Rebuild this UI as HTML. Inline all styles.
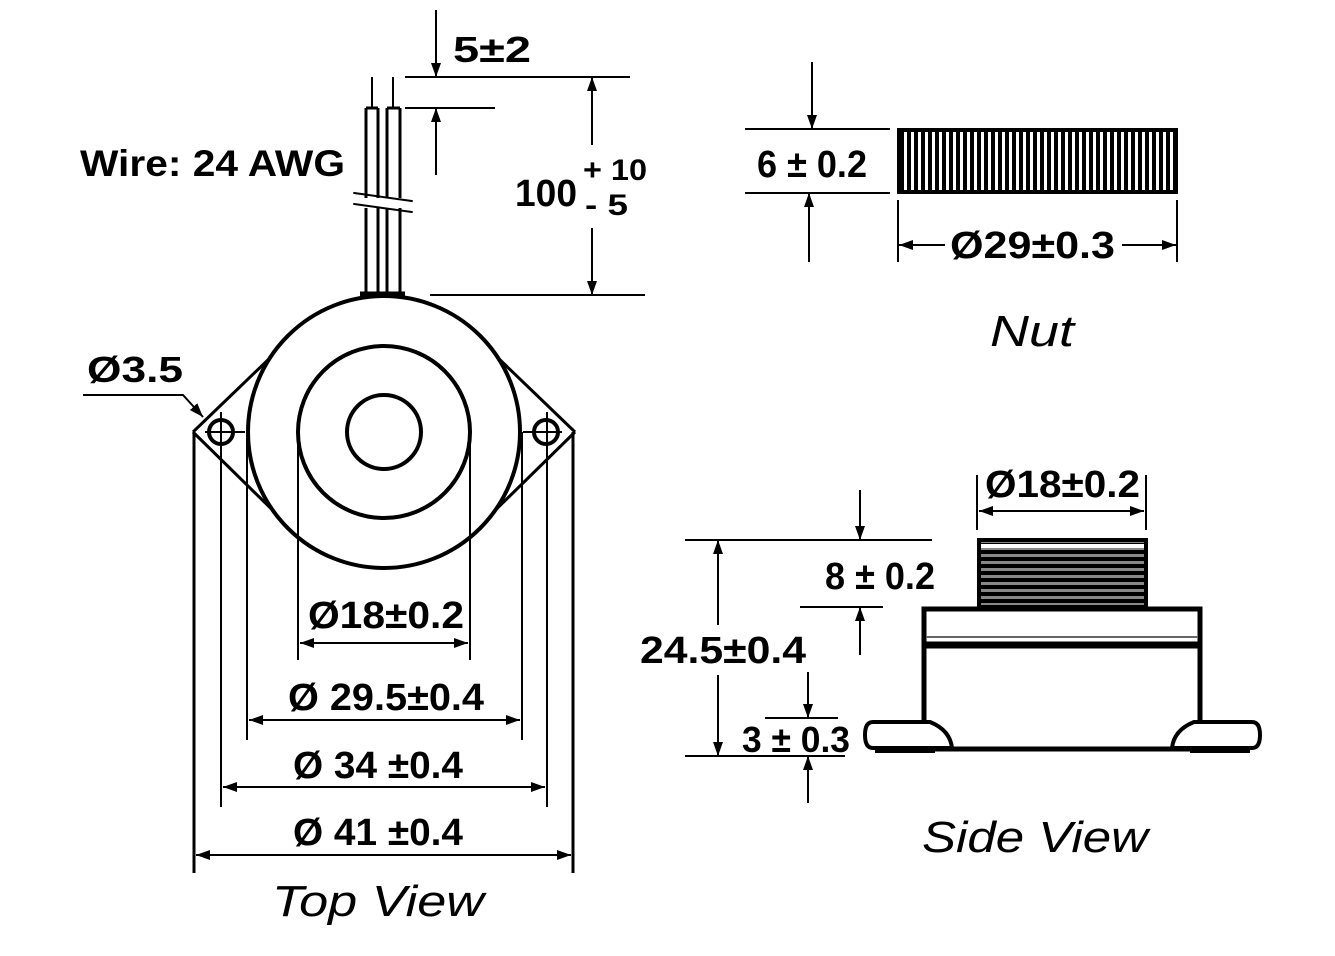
<!DOCTYPE html>
<html><head><meta charset="utf-8"><style>
html,body{margin:0;padding:0;background:#fff}
svg{display:block}
text{font-family:"Liberation Sans",sans-serif;font-weight:bold;fill:#000}
.i{font-style:italic;font-weight:normal}
</style></head><body>
<svg width="1335" height="956" viewBox="0 0 1335 956" xmlns="http://www.w3.org/2000/svg">
<defs>
<marker id="a" viewBox="0 0 14 10" refX="14" refY="5" markerWidth="14" markerHeight="10" markerUnits="userSpaceOnUse" orient="auto-start-reverse"><path d="M0,0 L14,5 L0,10 z" fill="#000"/></marker>
<pattern id="vh" width="7" height="10" patternUnits="userSpaceOnUse"><rect width="7" height="10" fill="#000"/><rect x="1" width="3" height="10" fill="#fff"/></pattern>
<pattern id="hh" width="10" height="7" patternUnits="userSpaceOnUse"><rect width="10" height="7" fill="#000"/><rect y="1" width="10" height="3" fill="#888"/></pattern>
</defs>
<g stroke="#000" stroke-width="2" fill="none">
<line x1="193" y1="432" x2="272" y2="356" stroke-width="3"/>
<line x1="193" y1="432" x2="300" y2="537" stroke-width="3"/>
<line x1="575" y1="432" x2="496" y2="356" stroke-width="3"/>
<line x1="575" y1="432" x2="468" y2="537" stroke-width="3"/>
<circle cx="384" cy="432" r="136" stroke-width="4" fill="#fff"/>
<circle cx="384" cy="432" r="86" stroke-width="4"/>
<circle cx="384" cy="432" r="37" stroke-width="4"/>
<circle cx="221" cy="432" r="12" stroke-width="4"/>
<circle cx="546" cy="432" r="12" stroke-width="4"/>
<line x1="205" y1="432" x2="245" y2="432"/><line x1="221" y1="412" x2="221" y2="807"/>
<line x1="523" y1="432" x2="562" y2="432"/><line x1="547" y1="412" x2="547" y2="807"/>
<line x1="194" y1="432" x2="194" y2="873" stroke-width="3"/>
<line x1="573" y1="432" x2="573" y2="873" stroke-width="3"/>
<line x1="247" y1="432" x2="247" y2="740"/>
<line x1="522" y1="432" x2="522" y2="740"/>
<line x1="298" y1="432" x2="298" y2="660"/>
<line x1="470" y1="432" x2="470" y2="660"/>
<line x1="300" y1="643" x2="468" y2="643" marker-start="url(#a)" marker-end="url(#a)"/>
<line x1="249" y1="720" x2="520" y2="720" marker-start="url(#a)" marker-end="url(#a)"/>
<line x1="223" y1="787" x2="545" y2="787" marker-start="url(#a)" marker-end="url(#a)"/>
<line x1="196" y1="855" x2="571" y2="855" marker-start="url(#a)" marker-end="url(#a)"/>
<polyline points="83,395 183,395 203,417" marker-end="url(#a)"/>
<line x1="366" y1="108" x2="366" y2="296" stroke-width="3"/>
<line x1="378" y1="108" x2="378" y2="296" stroke-width="3"/>
<line x1="387" y1="108" x2="387" y2="296" stroke-width="3"/>
<line x1="400" y1="108" x2="400" y2="296" stroke-width="3"/>
<line x1="366" y1="108" x2="378" y2="108" stroke-width="3"/>
<line x1="387" y1="108" x2="400" y2="108" stroke-width="3"/>
<line x1="372" y1="77" x2="372" y2="108"/>
<line x1="393" y1="77" x2="393" y2="108"/>
<line x1="353" y1="203" x2="413" y2="203" stroke="#fff" stroke-width="10"/>
<line x1="353" y1="197" x2="413" y2="197" stroke-width="2" transform="rotate(8 383 197)"/>
<line x1="353" y1="208" x2="413" y2="208" stroke-width="2" transform="rotate(8 383 208)"/>
<line x1="360" y1="294" x2="405" y2="294" stroke-width="5"/>
<line x1="405" y1="77" x2="630" y2="77"/>
<line x1="405" y1="108" x2="495" y2="108"/>
<line x1="430" y1="295" x2="645" y2="295"/>
<line x1="436" y1="10" x2="436" y2="77" marker-end="url(#a)"/>
<line x1="436" y1="175" x2="436" y2="108" marker-end="url(#a)"/>
<line x1="592" y1="145" x2="592" y2="77" marker-end="url(#a)"/>
<line x1="592" y1="228" x2="592" y2="295" marker-end="url(#a)"/>
<rect x="899" y="130" width="277" height="62" fill="url(#vh)" stroke-width="4"/>
<line x1="745" y1="129" x2="890" y2="129"/>
<line x1="745" y1="193" x2="890" y2="193"/>
<line x1="812" y1="62" x2="812" y2="129" marker-end="url(#a)"/>
<line x1="809" y1="262" x2="809" y2="193" marker-end="url(#a)"/>
<line x1="898" y1="200" x2="898" y2="262"/>
<line x1="1177" y1="200" x2="1177" y2="262"/>
<line x1="945" y1="245" x2="899" y2="245" marker-end="url(#a)"/>
<line x1="1122" y1="245" x2="1176" y2="245" marker-end="url(#a)"/>
<rect x="979" y="540" width="167" height="67" fill="url(#hh)" stroke-width="4"/>
<line x1="981" y1="546" x2="1144" y2="546" stroke="#fff" stroke-width="4"/>
<rect x="924" y="609" width="276" height="140" fill="#fff" stroke-width="5"/>
<line x1="926" y1="637" x2="1198" y2="637" stroke="#666" stroke-width="2"/>
<line x1="926" y1="645" x2="1198" y2="645" stroke-width="7"/>
<path d="M873,722 H930 Q950,730 952,748 H873 Q865,748 865,735 Q865,722 873,722 z" fill="#fff" stroke-width="4"/>
<path d="M1252,722 H1194 Q1174,730 1172,748 H1252 Q1260,748 1260,735 Q1260,722 1252,722 z" fill="#fff" stroke-width="4"/>
<line x1="875" y1="751" x2="935" y2="751" stroke-width="4"/>
<line x1="1190" y1="751" x2="1250" y2="751" stroke-width="4"/>
<line x1="925" y1="749" x2="1200" y2="749" stroke-width="4"/>
<line x1="977" y1="475" x2="977" y2="530"/>
<line x1="1146" y1="475" x2="1146" y2="530"/>
<line x1="979" y1="511" x2="1144" y2="511" marker-start="url(#a)" marker-end="url(#a)"/>
<line x1="685" y1="540" x2="932" y2="540"/>
<line x1="800" y1="607" x2="883" y2="607"/>
<line x1="860" y1="490" x2="860" y2="540" marker-end="url(#a)"/>
<line x1="860" y1="655" x2="860" y2="607" marker-end="url(#a)"/>
<line x1="718" y1="625" x2="718" y2="540" marker-end="url(#a)"/>
<line x1="718" y1="675" x2="718" y2="756" marker-end="url(#a)"/>
<line x1="685" y1="756" x2="845" y2="756"/>
<line x1="765" y1="718" x2="838" y2="718"/>
<line x1="808" y1="672" x2="808" y2="718" marker-end="url(#a)"/>
<line x1="808" y1="803" x2="808" y2="756" marker-end="url(#a)"/>
</g>
<text x="80" y="176" font-size="37" textLength="265" lengthAdjust="spacingAndGlyphs">Wire: 24 AWG</text>
<text x="453" y="62" font-size="36" textLength="78" lengthAdjust="spacingAndGlyphs">5±2</text>
<text x="515" y="206" font-size="38" textLength="62" lengthAdjust="spacingAndGlyphs">100</text>
<text x="583" y="180" font-size="30" textLength="64" lengthAdjust="spacingAndGlyphs">+ 10</text>
<text x="585" y="215" font-size="30" textLength="43" lengthAdjust="spacingAndGlyphs">- 5</text>
<text x="87" y="382" font-size="36" textLength="96" lengthAdjust="spacingAndGlyphs">Ø3.5</text>
<text x="308" y="628" font-size="38" textLength="156" lengthAdjust="spacingAndGlyphs">Ø18±0.2</text>
<text x="288" y="710" font-size="38" textLength="196" lengthAdjust="spacingAndGlyphs">Ø 29.5±0.4</text>
<text x="293" y="778" font-size="38" textLength="170" lengthAdjust="spacingAndGlyphs">Ø 34 ±0.4</text>
<text x="293" y="845" font-size="38" textLength="170" lengthAdjust="spacingAndGlyphs">Ø 41 ±0.4</text>
<text class="i" x="272" y="916" font-size="44" textLength="212" lengthAdjust="spacingAndGlyphs">Top View</text>
<text x="757" y="177" font-size="38" textLength="110" lengthAdjust="spacingAndGlyphs">6 ± 0.2</text>
<text x="950" y="258" font-size="38" textLength="165" lengthAdjust="spacingAndGlyphs">Ø29±0.3</text>
<text class="i" x="990" y="346" font-size="44" textLength="84" lengthAdjust="spacingAndGlyphs">Nut</text>
<text x="985" y="497" font-size="38" textLength="155" lengthAdjust="spacingAndGlyphs">Ø18±0.2</text>
<text x="825" y="589" font-size="38" textLength="110" lengthAdjust="spacingAndGlyphs">8 ± 0.2</text>
<text x="640" y="663" font-size="38" textLength="166" lengthAdjust="spacingAndGlyphs">24.5±0.4</text>
<text x="742" y="752" font-size="36" textLength="108" lengthAdjust="spacingAndGlyphs">3 ± 0.3</text>
<text class="i" x="922" y="852" font-size="44" textLength="226" lengthAdjust="spacingAndGlyphs">Side View</text>
</svg>
</body></html>
